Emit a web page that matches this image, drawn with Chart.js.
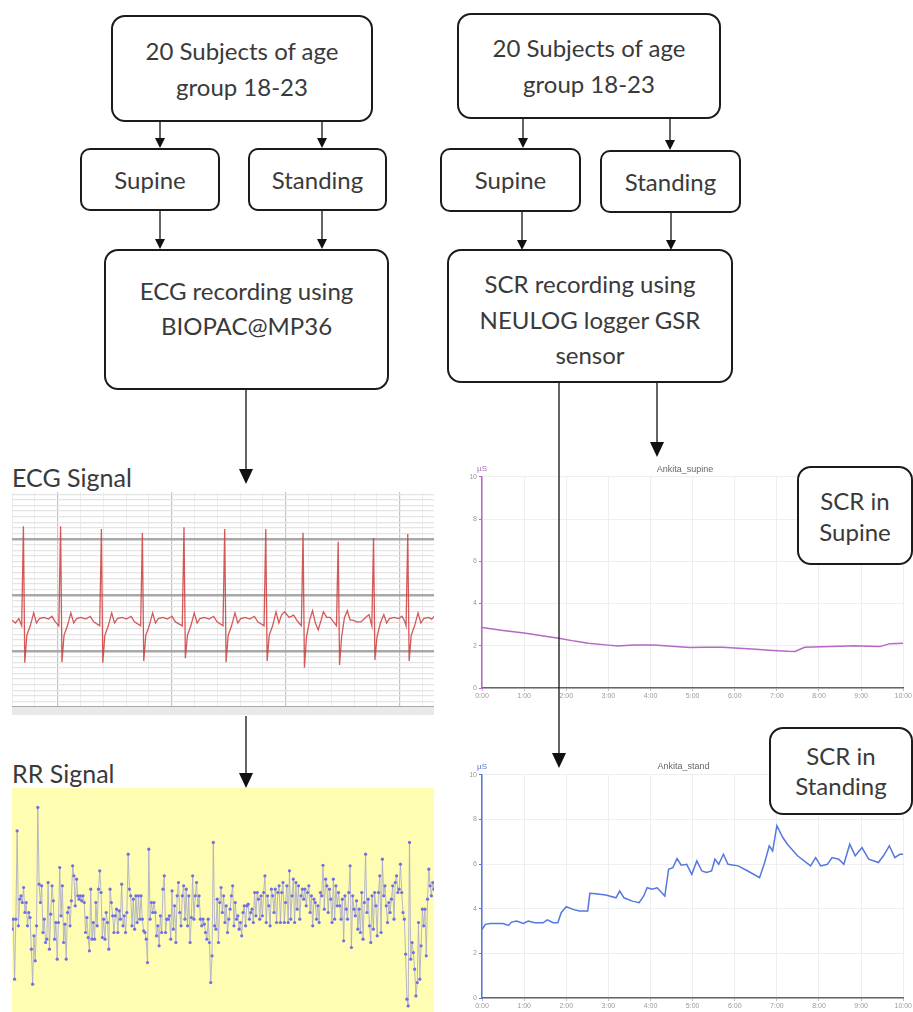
<!DOCTYPE html>
<html>
<head>
<meta charset="utf-8">
<style>
    body {
        margin: 0;
        padding: 0;
        width: 913px;
        height: 1012px;
        overflow: hidden;
        position: relative;
        background: #fff;
        font-family: Lato, "Open Sans", sans-serif;
    }
    .box {
        position: absolute;
        box-sizing: border-box;
        border: 2px solid #1b1b1b;
        border-radius: 14px;
        background: #fff;
        color: #3a3a3a;
        font-size: 24px;
        line-height: 36px;
        text-align: center;
        display: flex;
        align-items: center;
        justify-content: center;
        z-index: 3;
    }
    .small { border-radius: 10px; }
    .top-text { align-items: flex-start; }
    .lbl {
        position: absolute;
        color: #3a3a3a;
        font-size: 25px;
        line-height: 30px;
    }
    .plot { position: absolute; }
    #arrows { position: absolute; left: 0; top: 0; z-index: 5; pointer-events: none; }
</style>
</head>
<body>

<!-- left flow -->
<div class="box" style="left:111px;top:15px;width:262px;height:107px;">20 Subjects of age<br>group 18-23</div>
<div class="box small" style="left:80px;top:148px;width:140px;height:63px;">Supine</div>
<div class="box small" style="left:248px;top:148px;width:139px;height:63px;">Standing</div>
<div class="box top-text" style="left:104px;top:249px;width:285px;height:141px;padding-top:22px;line-height:35px;">ECG recording using<br>BIOPAC@MP36</div>

<!-- right flow -->
<div class="box" style="left:457px;top:13px;width:264px;height:106px;">20 Subjects of age<br>group 18-23</div>
<div class="box small" style="left:440px;top:148px;width:141px;height:64px;">Supine</div>
<div class="box small" style="left:600px;top:150px;width:141px;height:63px;">Standing</div>
<div class="box top-text" style="left:447px;top:249px;width:286px;height:134px;padding-top:15px;line-height:35.5px;">SCR recording using<br>NEULOG logger GSR<br>sensor</div>

<div class="box" style="left:797px;top:466px;width:116px;height:99px;line-height:31px;">SCR in<br>Supine</div>
<div class="box" style="left:769px;top:727px;width:144px;height:88px;line-height:30px;">SCR in<br>Standing</div>

<div class="lbl" style="left:12px;top:462px;">ECG Signal</div>
<div class="lbl" style="left:12px;top:758px;">RR Signal</div>

<div class="plot" style="left:12px;top:492px;width:422px;height:215px;"><canvas id="ecgChart"></canvas></div>
<div class="plot" style="left:12px;top:707px;width:422px;height:8px;background:#e9e9e9;"></div>
<div class="plot" style="left:12px;top:788px;width:422px;height:224px;background:#fefdb2;"><canvas id="rrChart"></canvas></div>
<div class="plot" style="left:460px;top:450px;width:453px;height:255px;"><canvas id="supineChart"></canvas></div>
<div class="plot" style="left:460px;top:745px;width:453px;height:267px;"><canvas id="standChart"></canvas></div>

<svg id="arrows" width="913" height="1012">
    <g stroke="#111" stroke-width="1.3" fill="none">
        <line x1="160" y1="122" x2="160" y2="139"/>
        <line x1="322" y1="122" x2="322" y2="139"/>
        <line x1="160" y1="211" x2="160" y2="240"/>
        <line x1="322" y1="211" x2="322" y2="240"/>
        <line x1="246" y1="390" x2="246" y2="470"/>
        <line x1="246" y1="716" x2="246" y2="775"/>
        <line x1="523" y1="119" x2="523" y2="139"/>
        <line x1="670" y1="119" x2="670" y2="141"/>
        <line x1="522" y1="212" x2="522" y2="240"/>
        <line x1="671" y1="213" x2="671" y2="240"/>
        <line x1="559" y1="383" x2="559" y2="755"/>
        <line x1="657" y1="383" x2="657" y2="443"/>
    </g>
    <g fill="#111">
        <polygon points="155,138 165,138 160,148"/>
        <polygon points="317,138 327,138 322,148"/>
        <polygon points="155,239 165,239 160,249"/>
        <polygon points="317,239 327,239 322,249"/>
        <polygon points="239,469 253,469 246,484"/>
        <polygon points="239,773 253,773 246,788"/>
        <polygon points="518,138 528,138 523,148"/>
        <polygon points="665,140 675,140 670,150"/>
        <polygon points="517,240 527,240 522,250"/>
        <polygon points="666,240 676,240 671,250"/>
        <polygon points="552,753 566,753 559,768"/>
        <polygon points="650,442 664,442 657,457"/>
    </g>
</svg>

<script src="https://cdn.jsdelivr.net/npm/chart.js"></script>
<script>
// ECG trace (seconds, mV)
const ecgTime = [
    -0.40, -0.37, -0.34, -0.315,
    -0.30, -0.288, -0.27, -0.24, -0.21, -0.185, -0.16, -0.12, -0.08, -0.05, -0.02, 0.011,
    0.026, 0.038, 0.056, 0.086, 0.116, 0.141, 0.166, 0.206, 0.246, 0.286, 0.316, 0.369,
    0.384, 0.396, 0.414, 0.444, 0.474, 0.499, 0.524, 0.564, 0.604, 0.644, 0.674, 0.728,
    0.743, 0.755, 0.773, 0.803, 0.833, 0.858, 0.883, 0.923, 0.963, 1.003, 1.033, 1.093,
    1.108, 1.120, 1.138, 1.168, 1.198, 1.223, 1.248, 1.288, 1.328, 1.368, 1.398, 1.450,
    1.465, 1.477, 1.495, 1.525, 1.555, 1.580, 1.605, 1.645, 1.685, 1.725, 1.755, 1.810,
    1.825, 1.837, 1.855, 1.885, 1.915, 1.940, 1.965, 1.990, 2.030, 2.070, 2.100, 2.137,
    2.152, 2.164, 2.182, 2.210, 2.235, 2.260, 2.285, 2.310, 2.330, 2.360, 2.390, 2.445,
    2.460, 2.472, 2.490, 2.515, 2.540, 2.565, 2.590, 2.620, 2.660, 2.700, 2.730, 2.755,
    2.770, 2.782, 2.800, 2.830, 2.860, 2.885, 2.910, 2.950, 2.990, 3.020, 3.045, 3.055,
    3.070, 3.082, 3.100, 3.130, 3.160, 3.185, 3.210, 3.250, 3.280, 3.300
];
const ecgMv = [
    -0.45, -0.50, -0.42, -0.55,
    1.23, -1.21, -0.72, -0.55, -0.32, -0.50, -0.42, -0.40, -0.43, -0.38, -0.48, -0.55,
    1.23, -1.20, -0.72, -0.55, -0.32, -0.50, -0.42, -0.40, -0.43, -0.38, -0.48, -0.55,
    1.18, -1.21, -0.72, -0.55, -0.32, -0.50, -0.42, -0.40, -0.43, -0.38, -0.48, -0.55,
    1.11, -1.18, -0.72, -0.55, -0.32, -0.50, -0.42, -0.40, -0.43, -0.38, -0.48, -0.55,
    1.21, -1.13, -0.72, -0.55, -0.32, -0.50, -0.42, -0.40, -0.43, -0.38, -0.48, -0.55,
    1.18, -1.20, -0.72, -0.55, -0.32, -0.50, -0.42, -0.40, -0.43, -0.38, -0.48, -0.55,
    1.18, -1.18, -0.72, -0.55, -0.30, -0.50, -0.35, -0.30, -0.40, -0.36, -0.46, -0.55,
    1.11, -1.30, -0.75, -0.45, -0.28, -0.50, -0.62, -0.45, -0.30, -0.40, -0.40, -0.55,
    0.95, -1.25, -0.75, -0.40, -0.28, -0.45, -0.45, -0.48, -0.48, -0.40, -0.35, -0.55,
    1.02, -1.16, -0.75, -0.50, -0.35, -0.50, -0.42, -0.40, -0.42, -0.38, -0.48, -0.55,
    1.09, -1.18, -0.72, -0.55, -0.32, -0.50, -0.42, -0.40, -0.43, -0.38
];

// RR intervals (ms), one per beat
const rrMs = [
    746, 764, 656, 764, 923, 752, 800, 806, 794, 821, 776, 794, 752, 776, 767, 710, 647, 734, 689, 752,
    965, 827, 794, 824, 740, 764, 722, 728, 830, 710, 773, 824, 797, 728, 758, 692, 758, 857, 770, 824,
    722, 755, 692, 776, 785, 752, 797, 860, 842, 788, 836, 806, 800, 806, 797, 806, 794, 740, 767, 731,
    707, 818, 728, 758, 728, 794, 752, 818, 851, 812, 731, 764, 728, 776, 758, 710, 818, 794, 770, 740,
    770, 782, 740, 779, 764, 827, 752, 770, 740, 776, 881, 818, 806, 752, 800, 746, 806, 758, 806, 764,
    806, 764, 743, 740, 728, 686, 890, 764, 794, 776,
    794, 776, 734, 752, 716, 770, 740, 818, 842, 740, 764, 764, 770, 728, 815, 746, 788, 722, 806, 830,
    776, 752, 806, 824, 764, 818, 752, 806, 722, 767, 842, 764, 806, 830, 788, 806, 764, 752, 764, 755,
    740, 728, 764, 722, 650, 698, 902, 752, 746, 800, 722, 794, 821, 776, 806, 758, 788, 740, 764, 782,
    806, 824, 752, 794, 764, 770, 746, 758, 734, 776, 788, 752, 788, 791, 764, 776, 782, 758, 812, 770,
    812, 800, 764, 806, 770, 812, 842, 758, 806, 788, 752, 818, 806, 776, 818, 758, 812, 824, 758, 812,
    830, 758, 794, 824, 758, 851, 764, 806, 836,
    758, 830, 782, 824, 764, 806, 818, 800, 818, 788, 812, 824, 776, 806, 752, 800, 794, 764, 788, 758,
    812, 806, 861, 782, 836, 824, 776, 818, 800, 758, 836, 764, 824, 788, 812, 788, 764, 800, 725, 806,
    782, 764, 812, 860, 713, 806, 782, 770, 797, 746, 782, 740, 812, 728, 794, 881, 776, 800, 752, 722,
    806, 746, 812, 788, 734, 812, 842, 740, 872, 806, 824, 788, 758, 794, 776, 800, 824, 764, 830, 842,
    812, 818, 863, 812, 776, 764, 701, 620, 608, 902, 692, 722, 704, 674, 626, 650, 758, 656, 716, 782,
    752, 782, 698, 800, 854, 824, 806, 830, 818
];

// skin conductance, supine (minutes, µS)
const supineMin = [0, 0.5, 1.0, 1.5, 1.82, 2.2, 2.52, 3.0, 3.22, 3.6, 4.08, 4.5, 4.93, 5.3, 5.71,
    6.1, 6.5, 6.9, 7.27, 7.43, 7.66, 8.05, 8.5, 8.83, 9.2, 9.45, 9.68, 10.0];
const supineUs = [2.86, 2.72, 2.6, 2.45, 2.36, 2.22, 2.12, 2.03, 1.99, 2.04, 2.04, 1.98, 1.92, 1.93, 1.93,
    1.88, 1.84, 1.78, 1.74, 1.73, 1.93, 1.95, 1.98, 2.0, 1.98, 1.96, 2.1, 2.12];

// skin conductance, standing (minutes, µS)
const standMin = [0, 0.08, 0.2, 0.5, 0.63, 0.7, 0.82, 0.98, 1.1, 1.25,
    1.45, 1.55, 1.69, 1.8, 1.88, 2.0, 2.16, 2.31, 2.51, 2.56,
    2.7, 2.94, 3.18, 3.27, 3.37, 3.57, 3.73, 3.84, 3.92, 4.04,
    4.16, 4.34, 4.43, 4.53, 4.63, 4.73, 4.86, 4.98, 5.1, 5.22,
    5.33, 5.45, 5.53, 5.62, 5.73, 5.84, 6.08, 6.31, 6.59, 6.71,
    6.82, 6.9, 7.0, 7.14, 7.25, 7.49, 7.8, 7.92, 8.04, 8.2,
    8.31, 8.47, 8.59, 8.73, 8.86, 9.02, 9.18, 9.41, 9.53, 9.67,
    9.8, 9.92, 10.0];
const standUs = [3.07, 3.3, 3.34, 3.34, 3.25, 3.4, 3.45, 3.34, 3.45, 3.37,
    3.37, 3.5, 3.37, 3.37, 3.82, 4.09, 3.97, 3.9, 3.9, 4.69,
    4.67, 4.61, 4.49, 4.79, 4.49, 4.34, 4.27, 4.57, 4.94, 4.87,
    4.94, 4.57, 5.77, 5.84, 6.25, 5.95, 5.99, 5.54, 6.14, 5.69,
    5.62, 5.69, 6.22, 5.99, 6.44, 5.99, 5.92, 5.69, 5.39, 6.07,
    6.82, 6.59, 7.72, 7.19, 6.89, 6.37, 5.92, 6.29, 5.92, 5.99,
    6.29, 6.22, 5.99, 6.89, 6.37, 6.74, 6.22, 6.07, 6.37, 6.82,
    6.29, 6.44, 6.44];

const scrTickLabels = ['0:00', '1:00', '2:00', '3:00', '4:00', '5:00', '6:00', '7:00', '8:00', '9:00', '10:00'];

Chart.defaults.font.family = '"Liberation Sans", sans-serif';
Chart.defaults.animation = false;
Chart.defaults.devicePixelRatio = 1;
Chart.defaults.plugins.legend.display = false;
Chart.defaults.plugins.tooltip.enabled = false;

const isWhole = v => Math.abs(v - Math.round(v)) < 1e-6;

// ECG strip: paper grid, thicker every whole unit
new Chart(document.getElementById('ecgChart'), {
    type: 'line',
    data: {
        datasets: [{
            data: ecgTime.map((t, i) => ({ x: t, y: ecgMv[i] })),
            borderColor: 'rgba(205,60,60,0.85)',
            borderWidth: 1.3,
            pointRadius: 0,
            tension: 0
        }]
    },
    options: {
        responsive: true,
        maintainAspectRatio: false,
        layout: { padding: 0, autoPadding: false },
        scales: {
            x: {
                type: 'linear', min: -0.4, max: 3.3,
                ticks: { display: false, stepSize: 0.2, includeBounds: false },
                border: { display: false },
                grid: {
                    drawTicks: false,
                    color: c => isWhole(c.tick.value) ? '#c4c4c4' : '#ededed',
                    lineWidth: c => isWhole(c.tick.value) ? 1.2 : 1
                }
            },
            y: {
                min: -2.0, max: 1.84,
                ticks: { display: false, stepSize: 0.1, includeBounds: false },
                border: { display: false },
                grid: {
                    drawTicks: false,
                    color: c => isWhole(c.tick.value) ? '#a8a8a8' : '#e4e4e4',
                    lineWidth: c => isWhole(c.tick.value) ? 2.5 : 1.2
                }
            }
        }
    }
});

// RR tachogram
new Chart(document.getElementById('rrChart'), {
    type: 'line',
    data: {
        datasets: [{
            data: rrMs.map((v, i) => ({ x: i, y: v })),
            borderColor: 'rgba(170,170,200,0.85)',
            borderWidth: 1,
            pointRadius: 1.6,
            pointBorderWidth: 0,
            pointBackgroundColor: '#6f6fe6',
            tension: 0
        }]
    },
    options: {
        responsive: true,
        maintainAspectRatio: false,
        layout: { padding: 0, autoPadding: false },
        scales: {
            x: { type: 'linear', display: false, min: 0, max: rrMs.length - 1 },
            y: { display: false, min: 597, max: 1000 }
        }
    }
});

// µS unit over the y axis
const unitLabel = {
    id: 'unitLabel',
    afterDraw(chart, args, opts) {
        const { ctx, chartArea } = chart;
        ctx.save();
        ctx.fillStyle = opts.color;
        ctx.font = '8px "Liberation Sans"';
        ctx.textAlign = 'center';
        ctx.fillText('µS', chartArea.left, chartArea.top - 6);
        ctx.restore();
    }
};

function scrChart(id, title, mins, values, color, titlePad, xHeight, rightPad) {
    return new Chart(document.getElementById(id), {
        type: 'line',
        data: {
            datasets: [{
                data: mins.map((m, i) => ({ x: m, y: values[i] })),
                borderColor: color,
                borderWidth: 1.5,
                pointRadius: 0,
                tension: 0
            }]
        },
        plugins: [unitLabel],
        options: {
            responsive: true,
            maintainAspectRatio: false,
            layout: { padding: { left: 0, right: rightPad, top: 0, bottom: 0 }, autoPadding: false },
            plugins: {
                unitLabel: { color: color },
                title: {
                    display: true,
                    text: title,
                    color: '#666',
                    font: { size: 9, weight: 'normal' },
                    padding: titlePad
                }
            },
            scales: {
                x: {
                    type: 'linear', min: 0, max: 10,
                    afterFit: s => { s.height = xHeight; },
                    ticks: {
                        stepSize: 1,
                        maxRotation: 0,
                        color: '#9a9a9a',
                        font: { size: 7 },
                        padding: 1,
                        callback: v => scrTickLabels[v]
                    },
                    border: { color: '#666', width: 1.5 },
                    grid: { color: '#eeeeee', tickLength: 3, tickColor: '#bbb' }
                },
                y: {
                    min: 0, max: 10,
                    afterFit: s => { s.width = 22; },
                    ticks: { stepSize: 2, color: '#9a9a9a', font: { size: 7 }, padding: 2 },
                    border: { color: color, width: 1.5 },
                    grid: { color: '#eeeeee', tickLength: 3, tickColor: color }
                }
            }
        }
    });
}

scrChart('supineChart', 'Ankita_supine', supineMin, supineUs, '#b46ac4', { top: 14, bottom: 2 }, 17, 3);
scrChart('standChart', 'Ankita_stand', standMin, standUs, '#5577e0', { top: 16, bottom: 3 }, 14, 6);
</script>
</body>
</html>
